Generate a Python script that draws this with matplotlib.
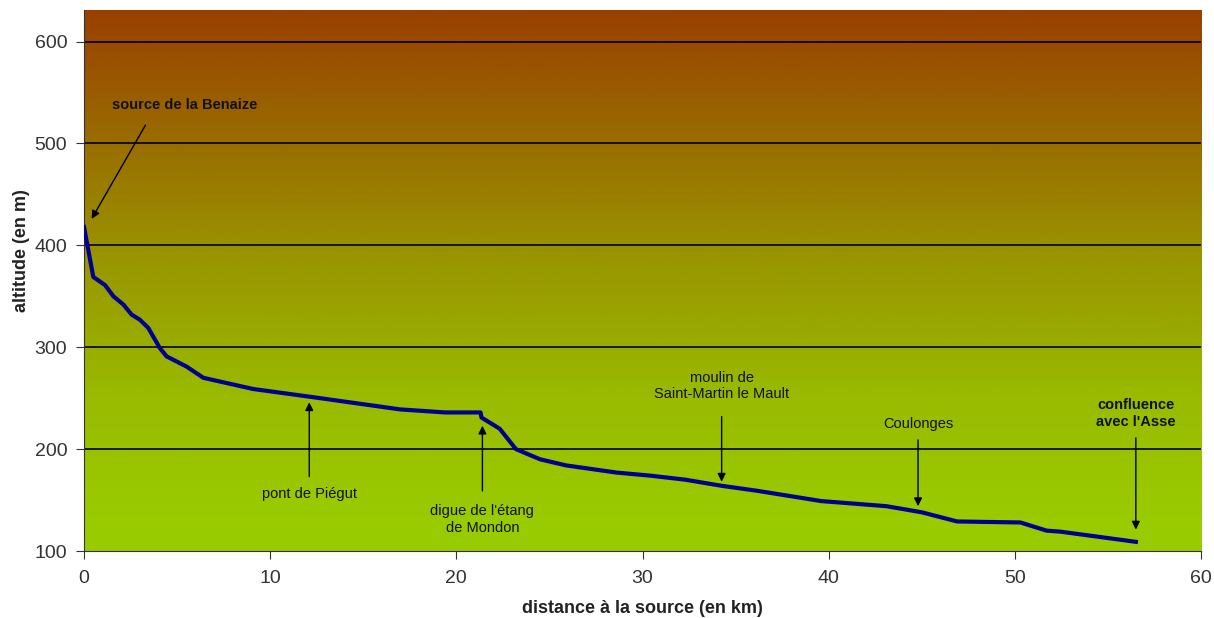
import numpy as np
import matplotlib.pyplot as plt
from matplotlib.colors import LinearSegmentedColormap

plt.rcParams['font.family'] = ['Liberation Sans', 'DejaVu Sans']

# profil en long de la Benaize
distance = [0.0, 0.5, 1.13, 1.58, 2.11, 2.56, 3.0, 3.45, 4.08, 4.44, 5.51, 6.41,
            9.09, 12.3, 16.97, 19.4, 21.3, 21.35, 22.33, 23.2, 24.5, 25.9, 28.6,
            30.4, 32.3, 34.25, 36.2, 39.6, 43.1, 45.0, 46.9, 50.3, 51.7, 52.45, 56.5]
altitude = [418, 369, 361, 350, 342, 332, 327, 319, 299, 291, 281, 270,
            259, 251, 239, 236, 236, 231, 220, 200, 190, 184, 177,
            174, 170, 164, 159, 149, 144, 138, 129, 128, 120, 119, 109]

# annotations: texte, position du texte, pointe et depart de la fleche
labels = ['source de la Benaize', 'pont de Piégut', "digue de l'étang\nde Mondon",
          'moulin de\nSaint-Martin le Mault', 'Coulonges', "confluence\navec l'Asse"]
label_xy = [(5.4, 538), (12.1, 156), (21.4, 131), (34.25, 262), (44.8, 225), (56.5, 235)]
arrow_tip = [(0.41, 426), (12.1, 246), (21.4, 223), (34.25, 168), (44.8, 144), (56.5, 121)]
arrow_tail = [(3.3, 518), (12.1, 173), (21.4, 159), (34.25, 232), (44.8, 209), (56.5, 211)]
bold = [True, False, False, False, False, True]

# fond en degrade (vert en bas -> brun en haut)
grad_alt = [100, 125, 248, 376, 494, 631]
grad_col = ['#99cc00', '#99cc00', '#99bb00', '#999900', '#997000', '#994000']

fig = plt.figure(figsize=(12.14, 6.18), dpi=100)
ax = fig.add_axes([0.0692, 0.1084, 0.9201, 0.8754])

ymin, ymax = 100, 631
pos = [(a - ymin) / (ymax - ymin) for a in grad_alt]
cmap = LinearSegmentedColormap.from_list('fond', list(zip(pos, grad_col)))
grad = np.linspace(0, 1, 512).reshape(-1, 1)
ax.imshow(grad, cmap=cmap, origin='lower', aspect='auto',
          extent=[0, 60, ymin, ymax], zorder=0)

for g in [200, 300, 400, 500, 600]:
    ax.axhline(g, color='black', lw=1.2, zorder=1)

ax.plot(distance, altitude, color='#00008f', lw=3, zorder=3, solid_joinstyle='round')

for t, lxy, tip, tail, b in zip(labels, label_xy, arrow_tip, arrow_tail, bold):
    ax.text(lxy[0], lxy[1], t, ha='center', va='center', fontsize=10.5,
            fontweight='bold' if b else 'normal', linespacing=1.25,
            color='#111111', zorder=4)
    ax.annotate('', xy=tip, xytext=tail,
                arrowprops=dict(arrowstyle='-|>', color='black', lw=1,
                                mutation_scale=12, shrinkA=0, shrinkB=0), zorder=4)

ax.set_xlim(0, 60)
ax.set_ylim(ymin, ymax)
ax.set_xticks(range(0, 61, 10))
ax.set_yticks(range(100, 601, 100))
ax.tick_params(labelsize=14, length=6, color='#333333', colors='#333333')
ax.tick_params(axis='x', pad=8)
ax.tick_params(axis='y', pad=6)
ax.spines['top'].set_visible(False)
ax.spines['right'].set_visible(False)
ax.spines['left'].set_color('#333333')
ax.spines['bottom'].set_color('#333333')
ax.set_xlabel('distance à la source (en km)', fontsize=13, fontweight='bold',
              labelpad=9, color='#222222')
ax.set_ylabel('altitude (en m)', fontsize=13, fontweight='bold', color='#222222')
ax.yaxis.set_label_coords(-0.048, 0.556)

fig.savefig('out.png', dpi=100)
